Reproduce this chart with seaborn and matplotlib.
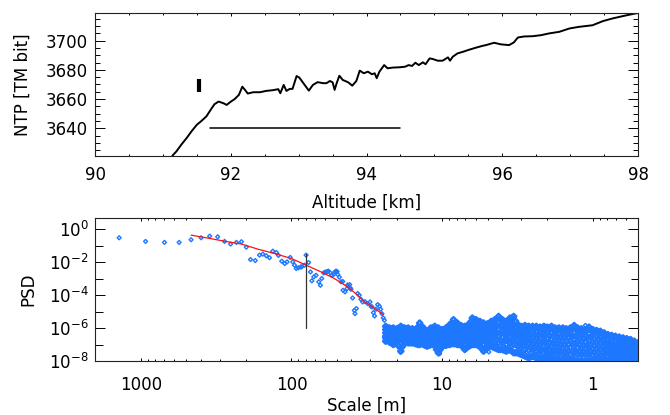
import numpy as np
import pandas as pd
import seaborn as sns
import matplotlib
matplotlib.use('Agg')
import matplotlib.pyplot as plt
from matplotlib.ticker import FixedLocator, FixedFormatter, MultipleLocator, LogLocator, NullFormatter

# ---- top panel: NTP profile ----
altitude = [91.14, 91.20, 91.27, 91.35, 91.42, 91.50, 91.57, 91.64, 91.72, 91.76,
            91.82, 91.89, 91.94, 91.99, 92.06, 92.12, 92.17, 92.21, 92.25, 92.33,
            92.43, 92.52, 92.62, 92.70, 92.73, 92.78, 92.82, 92.87, 92.91, 92.97,
            93.01, 93.07, 93.15, 93.21, 93.28, 93.36, 93.41, 93.46, 93.50, 93.53,
            93.56, 93.60, 93.65, 93.73, 93.79, 93.85, 93.90, 93.96, 94.02, 94.08,
            94.12, 94.15, 94.19, 94.26, 94.31, 94.39, 94.49, 94.57, 94.62, 94.67,
            94.72, 94.77, 94.83, 94.87, 94.93, 94.98, 95.05, 95.12, 95.20, 95.23,
            95.27, 95.34, 95.42, 95.51, 95.61, 95.71, 95.76, 95.88, 95.98, 96.10,
            96.17, 96.23, 96.32, 96.45, 96.57, 96.69, 96.84, 96.99, 97.13, 97.33,
            97.48, 97.62, 97.77, 97.93, 98.00]
ntp = [3621.2, 3624.2, 3628.7, 3633.3, 3637.8, 3642.4, 3645.1, 3648.1, 3653.8, 3656.5,
       3658.3, 3657.2, 3656.0, 3657.9, 3660.1, 3662.9, 3668.5, 3666.3, 3663.8, 3664.7,
       3664.7, 3665.6, 3666.1, 3666.8, 3664.0, 3669.7, 3665.6, 3667.0, 3667.0, 3675.8,
       3674.7, 3670.9, 3665.8, 3669.7, 3671.6, 3670.9, 3670.9, 3672.4, 3671.5, 3666.3,
       3670.9, 3676.0, 3673.1, 3671.5, 3669.2, 3672.4, 3679.5, 3677.7, 3678.8, 3677.0,
       3677.7, 3674.3, 3678.8, 3683.3, 3681.1, 3681.6, 3681.8, 3682.2, 3683.3, 3682.7,
       3684.9, 3683.3, 3685.2, 3683.9, 3687.9, 3687.4, 3686.3, 3686.3, 3688.6, 3686.3,
       3689.0, 3691.3, 3692.4, 3693.8, 3695.2, 3696.5, 3697.0, 3698.6, 3697.5, 3697.0,
       3698.8, 3702.2, 3702.9, 3703.1, 3703.8, 3705.0, 3706.1, 3708.4, 3709.5, 3710.6,
       3713.4, 3715.2, 3716.8, 3718.4, 3719.0]
bar_alt = [91.53, 91.53]
bar_ntp = [3665.0, 3674.0]
segment_alt = [91.7, 94.5]
segment_ntp = [3640.0, 3640.0]

# ---- bottom panel: spectrum (PSD given as log10) ----
scale_sparse = [1393, 930, 697, 557, 464, 398, 349, 309, 278, 253.6,
                232, 215, 199.5, 187, 174, 163, 155, 147, 140, 133,
                126, 122, 116, 111, 107, 102, 98, 95.5, 93, 90,
                87, 85.5, 82, 80, 77, 74.8, 73.3, 71.1, 68.7, 65.9,
                64.3, 63, 61.1, 60, 58.9, 57.8, 56.9, 55.2, 54.1, 52.5,
                51.5, 50.6, 49.8, 49.3, 48.1, 46.9, 45.7, 45.5, 44.1, 42.8,
                42.4, 41.9, 41.1, 40.6, 40.3, 39.3, 38.3, 37.9, 37.1, 36.4,
                35.5, 34.6, 33.7, 32.5, 31.2, 30.1, 29.6, 29.2, 28.6, 28.1,
                27.5, 26.8, 26.1, 25.6, 25.1, 24.6, 24.2, 23.9, 23.6,
                19.0, 10.4, 4.9, 1.12]
psd_sparse_log = [-0.53, -0.75, -0.81, -0.81, -0.65, -0.53, -0.43, -0.47, -0.75, -0.91,
                  -0.81, -0.77, -1.10, -1.85, -1.91, -1.58, -1.52, -1.62, -1.74, -1.34,
                  -1.42, -1.60, -1.95, -2.09, -1.99, -1.72, -1.99, -2.19, -2.39, -2.35,
                  -2.30, -2.29, -2.19, -1.58, -2.03, -2.60, -3.14, -2.90, -2.80, -3.20,
                  -3.41, -3.00, -2.66, -2.62, -2.60, -2.58, -2.55, -2.66, -2.80, -2.75,
                  -2.60, -2.55, -2.58, -2.76, -2.92, -3.20, -3.18, -3.71, -3.81, -3.61,
                  -3.39, -3.45, -3.37, -3.59, -3.65, -4.18, -4.93, -5.13, -4.82, -3.91,
                  -4.01, -4.26, -4.42, -4.40, -4.52, -4.42, -4.70, -4.72, -5.07, -5.27,
                  -4.86, -4.58, -4.68, -4.86, -5.13, -5.39, -5.53, -5.94, -6.24,
                  -7.46, -7.56, -7.45, -5.84]

# dense part of the spectrum, read column by column
scale_dense = [23.7, 22.4, 21.1, 20.0, 18.8, 17.8, 16.8, 15.8, 15.0, 14.1,
               13.3, 12.6, 11.9, 11.2, 10.6, 10.0, 9.44, 8.91, 8.41, 7.94,
               7.50, 7.08, 6.68, 6.31, 5.96, 5.62, 5.31, 5.01, 4.73, 4.47,
               4.22, 3.98, 3.76, 3.55, 3.35, 3.16, 2.99, 2.82, 2.66, 2.51,
               2.37, 2.24, 2.11, 2.00, 1.88, 1.78, 1.68, 1.58, 1.50, 1.41,
               1.33, 1.26, 1.19, 1.12, 1.06, 1.00, 0.944, 0.891, 0.841, 0.794,
               0.750, 0.708, 0.668, 0.631, 0.596, 0.562, 0.531, 0.501]
dense_top = [-5.9, -6.0, -6.0, -6.05, -5.9, -6.0, -6.0, -6.05, -6.1, -5.7,
             -6.0, -6.2, -6.0, -5.9, -6.0, -6.1, -6.0, -5.8, -5.5, -5.7,
             -5.85, -5.9, -5.8, -5.4, -5.5, -5.6, -5.7, -5.75, -5.6, -5.5,
             -5.3, -5.5, -5.6, -5.4, -5.3, -5.8, -5.9, -5.85, -5.9, -5.9,
             -5.9, -5.95, -5.9, -5.95, -5.9, -6.0, -6.0, -6.0, -6.05, -6.0,
             -5.85, -6.0, -6.05, -6.1, -5.95, -6.1, -6.15, -6.2, -6.3, -6.4,
             -6.45, -6.5, -6.55, -6.6, -6.65, -6.7, -6.8, -6.9]
dense_upper = [-6.1, -6.2, -6.15, -6.2, -6.1, -6.2, -6.25, -6.2, -6.3, -5.95,
               -6.2, -6.35, -6.2, -6.15, -6.3, -6.3, -6.2, -6.1, -5.8, -6.0,
               -6.1, -6.15, -6.05, -5.75, -5.85, -5.9, -6.0, -6.05, -5.9, -5.85,
               -5.7, -5.85, -5.95, -5.8, -5.75, -6.1, -6.2, -6.2, -6.25, -6.25,
               -6.25, -6.3, -6.3, -6.3, -6.3, -6.35, -6.35, -6.4, -6.4, -6.4,
               -6.3, -6.4, -6.45, -6.45, -6.35, -6.45, -6.5, -6.55, -6.6, -6.7,
               -6.75, -6.8, -6.85, -6.85, -6.9, -6.95, -7.05, -7.1]
dense_mid = [-6.3, -6.35, -6.4, -6.3, -6.35, -6.4, -6.4, -6.45, -6.5, -6.3,
             -6.4, -6.55, -6.4, -6.35, -6.55, -6.5, -6.45, -6.35, -6.1, -6.3,
             -6.35, -6.4, -6.35, -6.1, -6.15, -6.2, -6.3, -6.35, -6.2, -6.2,
             -6.1, -6.2, -6.3, -6.2, -6.2, -6.4, -6.5, -6.55, -6.6, -6.6,
             -6.6, -6.65, -6.7, -6.65, -6.7, -6.75, -6.75, -6.8, -6.8, -6.8,
             -6.7, -6.8, -6.85, -6.85, -6.75, -6.85, -6.9, -6.9, -6.95, -7.0,
             -7.05, -7.1, -7.1, -7.15, -7.2, -7.2, -7.3, -7.35]
dense_low = [-6.5, -6.5, -6.55, -6.5, -6.6, -6.5, -6.6, -6.6, -6.65, -6.5,
             -6.6, -6.7, -6.6, -6.6, -6.8, -6.7, -6.65, -6.6, -6.4, -6.55,
             -6.6, -6.7, -6.6, -6.4, -6.45, -6.5, -6.65, -6.6, -6.5, -6.5,
             -6.5, -6.55, -6.65, -6.55, -6.6, -6.75, -6.85, -6.9, -6.95, -6.95,
             -7.0, -7.0, -7.1, -7.05, -7.1, -7.15, -7.15, -7.2, -7.2, -7.2,
             -7.1, -7.2, -7.2, -7.25, -7.2, -7.25, -7.25, -7.3, -7.3, -7.35,
             -7.35, -7.4, -7.4, -7.45, -7.45, -7.5, -7.55, -7.6]
dense_lower = [-6.6, -6.7, -6.7, -6.6, -7.2, -6.65, -6.75, -6.8, -6.8, -6.75,
               -6.8, -6.9, -6.8, -6.8, -7.2, -6.9, -6.85, -6.8, -6.7, -6.8,
               -6.8, -7.0, -6.85, -6.7, -6.75, -6.8, -7.0, -6.9, -6.8, -6.85,
               -6.9, -6.9, -7.0, -6.9, -7.0, -7.1, -7.2, -7.3, -7.35, -7.3,
               -7.4, -7.4, -7.5, -7.45, -7.5, -7.55, -7.5, -7.6, -7.55, -7.6,
               -7.55, -7.6, -7.6, -7.6, -7.6, -7.65, -7.65, -7.65, -7.65, -7.7,
               -7.7, -7.7, -7.7, -7.75, -7.75, -7.75, -7.8, -7.8]
dense_bottom = [-6.8, -6.85, -7.0, -6.8, -7.4, -6.8, -6.9, -6.9, -6.95, -7.0,
                -7.0, -7.1, -7.0, -7.0, -7.5, -7.1, -7.05, -7.0, -6.95, -7.0,
                -7.0, -7.3, -7.1, -7.0, -7.0, -7.1, -7.4, -7.15, -7.1, -7.2,
                -7.3, -7.3, -7.4, -7.3, -7.5, -7.5, -7.6, -7.7, -7.8, -7.7,
                -7.8, -7.8, -7.9, -7.8, -7.9, -7.9, -7.9, -7.95, -7.9, -7.9,
                -7.95, -8.0, -8.0, -8.0, -8.0, -8.0, -8.0, -8.0, -8.0, -8.0,
                -8.0, -8.0, -8.0, -8.0, -8.0, -8.0, -8.0, -8.0]

# second set of columns, in between the first
scale_dense_b = [23.0, 21.8, 20.5, 19.4, 18.3, 17.3, 16.3, 15.4, 14.5, 13.7,
                 12.95, 12.2, 11.55, 10.9, 10.3, 9.72, 9.17, 8.66, 8.18, 7.72,
                 7.29, 6.88, 6.49, 6.13, 5.79, 5.46, 5.16, 4.87, 4.60, 4.34,
                 4.10, 3.87, 3.65, 3.45, 3.25, 3.07, 2.90, 2.74, 2.58, 2.44,
                 2.30, 2.17, 2.05, 1.94, 1.83, 1.73, 1.63, 1.54, 1.45, 1.37,
                 1.30, 1.22, 1.155, 1.09, 1.03, 0.972, 0.917, 0.866, 0.818, 0.772,
                 0.729, 0.688, 0.649, 0.613, 0.579, 0.546, 0.516]
dense_b1 = [-6.0, -6.05, -6.1, -6.0, -6.0, -6.05, -6.1, -6.15, -5.95, -5.9,
            -6.15, -6.15, -6.0, -6.0, -6.1, -6.1, -5.95, -5.7, -5.65, -5.85,
            -5.95, -5.9, -5.65, -5.5, -5.6, -5.7, -5.8, -5.75, -5.6, -5.45,
            -5.45, -5.6, -5.55, -5.4, -5.6, -5.9, -5.95, -5.95, -6.0, -6.0,
            -6.0, -6.0, -6.0, -6.0, -6.05, -6.1, -6.1, -6.1, -6.1, -6.0,
            -6.0, -6.1, -6.15, -6.1, -6.1, -6.2, -6.25, -6.35, -6.45, -6.5,
            -6.55, -6.6, -6.65, -6.7, -6.75, -6.85, -6.95]
dense_b2 = [-6.2, -6.25, -6.3, -6.2, -6.25, -6.3, -6.3, -6.35, -6.25, -6.15,
            -6.35, -6.35, -6.25, -6.25, -6.35, -6.3, -6.2, -6.0, -5.95, -6.1,
            -6.2, -6.2, -5.95, -5.85, -5.95, -6.05, -6.15, -6.05, -5.95, -5.85,
            -5.85, -5.95, -5.95, -5.85, -6.0, -6.25, -6.35, -6.35, -6.4, -6.4,
            -6.45, -6.45, -6.45, -6.45, -6.5, -6.55, -6.55, -6.55, -6.55, -6.5,
            -6.5, -6.6, -6.6, -6.6, -6.55, -6.65, -6.7, -6.75, -6.85, -6.9,
            -6.95, -7.0, -7.0, -7.05, -7.1, -7.15, -7.2]
dense_b3 = [-6.4, -6.45, -6.5, -6.45, -6.5, -6.5, -6.5, -6.55, -6.5, -6.4,
            -6.55, -6.55, -6.5, -6.5, -6.6, -6.55, -6.45, -6.3, -6.25, -6.4,
            -6.45, -6.5, -6.25, -6.2, -6.3, -6.4, -6.5, -6.4, -6.3, -6.25,
            -6.3, -6.35, -6.35, -6.3, -6.45, -6.6, -6.7, -6.75, -6.8, -6.8,
            -6.85, -6.85, -6.9, -6.9, -6.95, -6.95, -7.0, -7.0, -7.0, -6.95,
            -6.95, -7.0, -7.05, -7.05, -7.0, -7.05, -7.1, -7.15, -7.2, -7.2,
            -7.25, -7.3, -7.3, -7.35, -7.35, -7.4, -7.45]
dense_b4 = [-6.6, -6.65, -6.7, -6.7, -6.8, -6.7, -6.75, -6.75, -6.75, -6.7,
            -6.8, -6.8, -6.75, -6.85, -6.9, -6.8, -6.7, -6.6, -6.6, -6.7,
            -6.75, -6.8, -6.6, -6.55, -6.65, -6.75, -6.85, -6.75, -6.7, -6.7,
            -6.75, -6.8, -6.75, -6.75, -6.9, -7.0, -7.1, -7.15, -7.2, -7.2,
            -7.25, -7.3, -7.35, -7.35, -7.4, -7.4, -7.45, -7.45, -7.45, -7.4,
            -7.45, -7.45, -7.45, -7.45, -7.45, -7.5, -7.5, -7.5, -7.55, -7.55,
            -7.6, -7.6, -7.6, -7.65, -7.65, -7.7, -7.7]
dense_b5 = [-6.75, -6.9, -6.9, -7.1, -7.1, -6.85, -6.9, -6.9, -7.0, -6.95,
            -7.05, -7.05, -7.0, -7.3, -7.3, -7.05, -7.0, -6.95, -6.95, -7.0,
            -7.15, -7.2, -7.05, -7.0, -7.05, -7.25, -7.3, -7.1, -7.15, -7.25,
            -7.3, -7.35, -7.35, -7.4, -7.5, -7.55, -7.65, -7.75, -7.75, -7.75,
            -7.8, -7.85, -7.85, -7.85, -7.9, -7.9, -7.95, -7.95, -7.9, -7.95,
            -8.0, -8.0, -8.0, -8.0, -8.0, -8.0, -8.0, -8.0, -8.0, -8.0,
            -8.0, -8.0, -8.0, -8.0, -8.0, -8.0, -8.0]

fit_scale = [464, 349, 278, 215, 167, 130, 100, 80, 63.6, 51.9, 42.4, 36.4, 32.9, 29, 24.6]
fit_psd_log = [-0.37, -0.57, -0.74, -0.91, -1.22, -1.48, -1.79, -2.19, -2.60, -3.00,
               -3.51, -4.01, -4.40, -4.72, -5.19]
cut_scale = [80, 80]
cut_psd = [1e-6, 0.03]

# ---- assemble ----
sparse = pd.DataFrame({'scale': scale_sparse, 'psd': 10.0 ** np.array(psd_sparse_log)})
pts = []
for lev in [dense_top, dense_upper, dense_mid, dense_low, dense_lower, dense_bottom]:
    pts.append(pd.DataFrame({'scale': scale_dense, 'psd': 10.0 ** np.array(lev)}))
for lev in [dense_b1, dense_b2, dense_b3, dense_b4, dense_b5]:
    pts.append(pd.DataFrame({'scale': scale_dense_b, 'psd': 10.0 ** np.array(lev)}))
dense = pd.concat(pts, ignore_index=True)
fit = pd.DataFrame({'scale': fit_scale, 'psd': 10.0 ** np.array(fit_psd_log)})
prof = pd.DataFrame({'alt': altitude, 'ntp': ntp})

sns.set_style('white')
plt.rcParams['font.family'] = ['DejaVu Sans']
plt.rcParams['font.size'] = 12
plt.rcParams['axes.edgecolor'] = '#222222'
plt.rcParams['axes.linewidth'] = 0.8
plt.rcParams['text.color'] = 'black'
plt.rcParams['axes.labelcolor'] = 'black'
plt.rcParams['xtick.color'] = 'black'
plt.rcParams['ytick.color'] = 'black'
plt.rcParams['mathtext.default'] = 'regular'

blue = '#1e78ff'
fig = plt.figure(figsize=(6.7, 4.15), dpi=100)
ax1 = fig.add_axes([0.1418, 0.6241, 0.8105, 0.3446])
ax2 = fig.add_axes([0.1425, 0.1301, 0.8100, 0.3458])

# top
sns.lineplot(data=prof, x='alt', y='ntp', color='black', linewidth=1.4, ax=ax1)
ax1.plot(bar_alt, bar_ntp, color='black', linewidth=3.0, solid_capstyle='butt')
ax1.plot(segment_alt, segment_ntp, color='black', linewidth=1.1)
ax1.set_xlim(90, 98)
ax1.set_ylim(3621, 3719)
ax1.xaxis.set_major_locator(MultipleLocator(2))
ax1.xaxis.set_minor_locator(MultipleLocator(0.5))
ax1.yaxis.set_major_locator(MultipleLocator(20))
ax1.yaxis.set_minor_locator(MultipleLocator(5))
ax1.set_xlabel('Altitude [km]', labelpad=7)
ax1.set_ylabel('NTP [TM bit]', labelpad=10)

# bottom
sns.scatterplot(data=dense, x='scale', y='psd', marker='D', s=7, facecolors='none',
                edgecolor=blue, linewidth=1.8, ax=ax2, zorder=2)
sns.scatterplot(data=sparse, x='scale', y='psd', marker='D', s=4, facecolors='none',
                edgecolor=blue, linewidth=1.0, ax=ax2, zorder=2)
sns.lineplot(data=fit, x='scale', y='psd', color='#ff1010', linewidth=0.9, ax=ax2, zorder=3)
ax2.plot(cut_scale, cut_psd, color='#333333', linewidth=0.9, zorder=4)
ax2.set_xscale('log')
ax2.set_yscale('log')
ax2.set_xlim(2000, 0.5)
ax2.set_ylim(1e-8, 5)
ax2.xaxis.set_major_locator(FixedLocator([1000, 100, 10, 1]))
ax2.xaxis.set_major_formatter(FixedFormatter(['1000', '100', '10', '1']))
ax2.xaxis.set_minor_locator(LogLocator(base=10, subs=np.arange(2, 10), numticks=20))
ax2.xaxis.set_minor_formatter(NullFormatter())
ax2.yaxis.set_major_locator(FixedLocator([1, 1e-2, 1e-4, 1e-6, 1e-8]))
ax2.yaxis.set_major_formatter(FixedFormatter([r'$10^{0}$', r'$10^{-2}$', r'$10^{-4}$',
                                               r'$10^{-6}$', r'$10^{-8}$']))
ax2.yaxis.set_minor_locator(FixedLocator([1e-1, 1e-3, 1e-5, 1e-7]))
ax2.yaxis.set_minor_formatter(NullFormatter())
ax2.set_xlabel('Scale [m]', labelpad=2)
ax2.set_ylabel('PSD', labelpad=8)

for ax, xpad, ymin_len in ((ax1, 7, 3.8), (ax2, 11, 5.4)):
    ax.tick_params(axis='x', which='major', direction='in', length=2.5, width=0.7,
                   bottom=True, top=True, pad=xpad)
    ax.tick_params(axis='x', which='minor', direction='in', length=1.4, width=0.7,
                   bottom=True, top=True)
    ax.tick_params(axis='y', which='major', direction='in', length=7.5, width=0.7,
                   left=True, right=True, pad=5)
    ax.tick_params(axis='y', which='minor', direction='in', length=ymin_len, width=0.7,
                   left=True, right=True)
    for sp in ax.spines.values():
        sp.set_visible(True)

fig.savefig('out.png', dpi=100)
